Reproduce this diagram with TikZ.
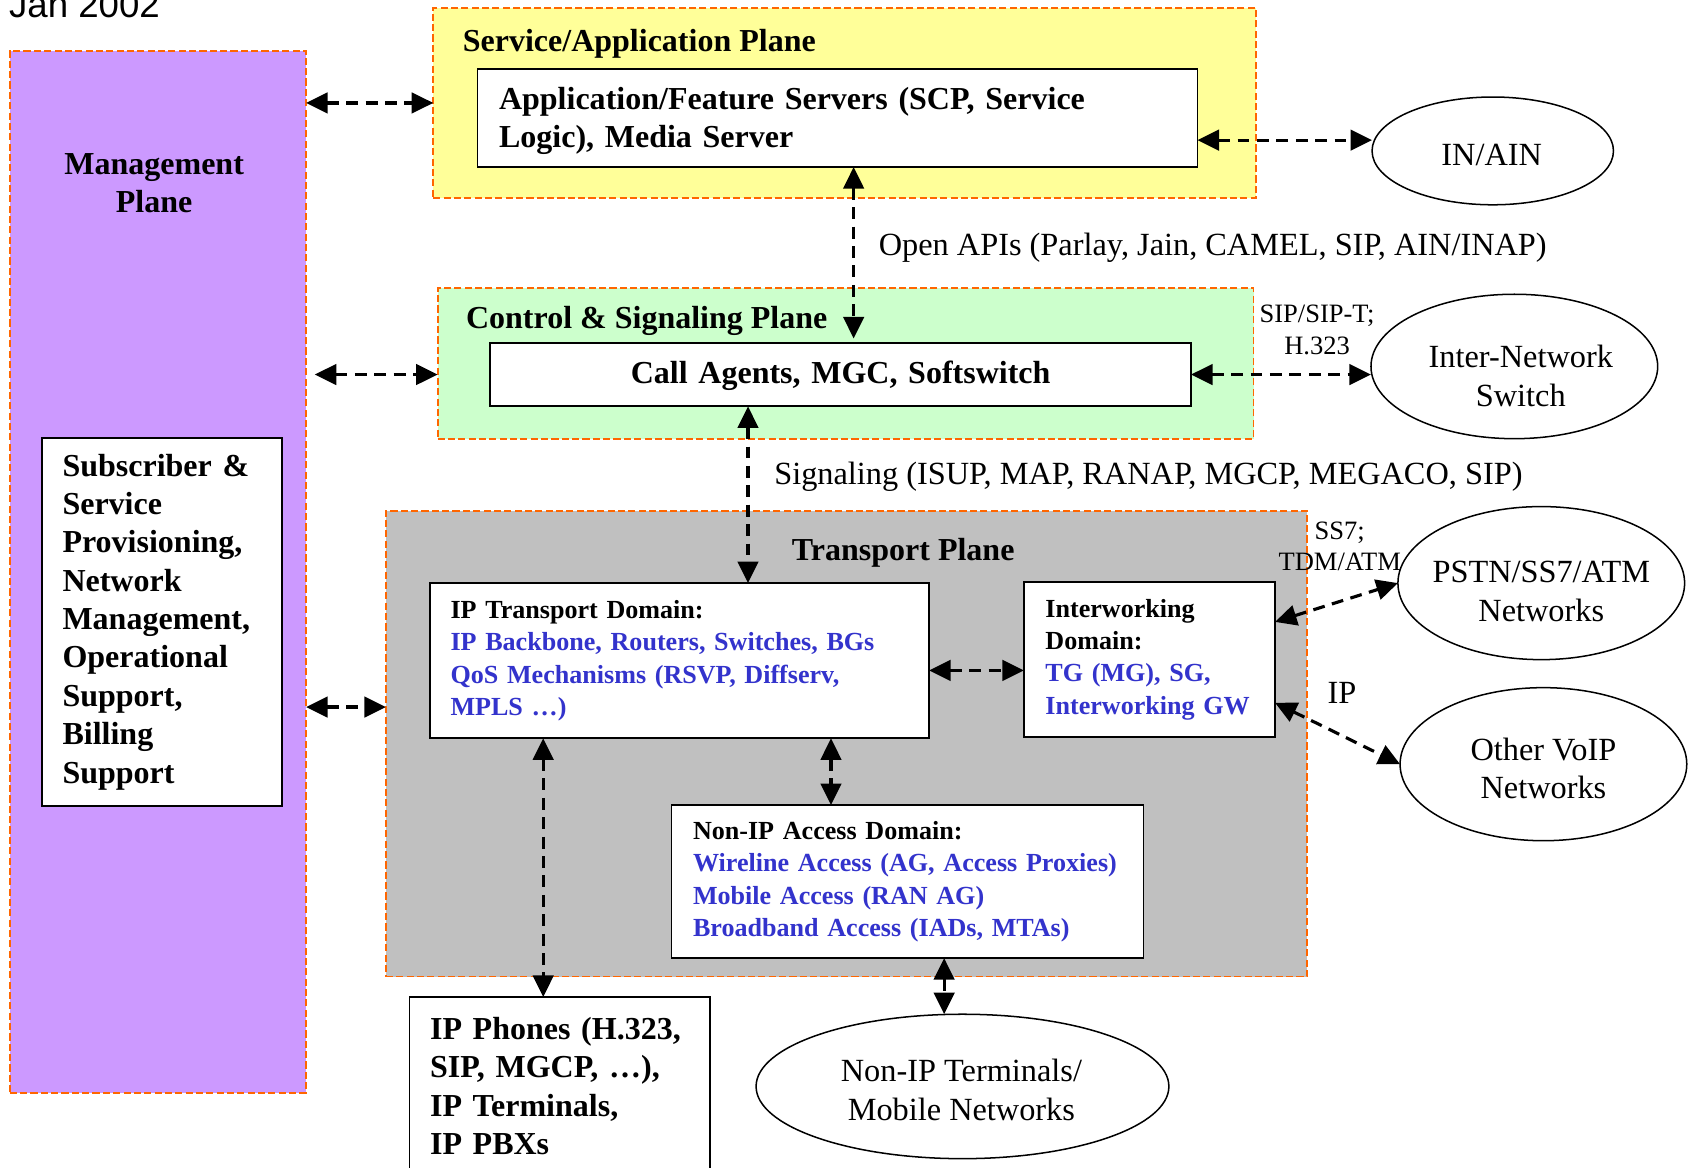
\documentclass[tikz,border=0pt]{standalone}
\usepackage{fontspec}
\setmainfont{Liberation Serif}
\newfontfamily\sansf{Liberation Sans}
\usetikzlibrary{arrows.meta,shapes.geometric}
\definecolor{mgmtc}{HTML}{CC99FF}
\definecolor{svcc}{HTML}{FFFF99}
\definecolor{ctrlc}{HTML}{CCFFCC}
\definecolor{trc}{HTML}{C0C0C0}
\definecolor{orng}{HTML}{FF6600}
\definecolor{blu}{HTML}{3333CC}
\newcommand{\fBig}{\fontsize{14.85}{17.8}\selectfont\bfseries}
\newcommand{\fDom}{\fontsize{12.1}{15}\selectfont\bfseries}
\newcommand{\fReg}{\fontsize{15}{18}\selectfont}
\newcommand{\fSml}{\fontsize{12.3}{14.5}\selectfont}
\newcommand{\bl}[1]{\textcolor{blu}{\mbox{#1}}}
\begin{document}
\begin{tikzpicture}[x=0.5pt,y=-0.5pt,
  plane/.style={draw=orng, line width=0.9pt, dash pattern=on 3.3pt off 1.5pt, anchor=north west, inner sep=0pt, outer sep=0pt},
  box/.style={draw=black, line width=0.85pt, fill=white, anchor=north west, inner ysep=0pt, align=left, outer sep=0pt},
  ell/.style={draw=black, ellipse, line width=0.7pt, inner sep=0pt, outer sep=0pt},
  etxt/.style={font=\fReg, inner sep=0pt, align=center},
  conn/.style={line width=1.45pt, dash pattern=on 5.5pt off 3.5pt, {Triangle[length=10pt,width=9.5pt]}-{Triangle[length=10pt,width=9.5pt]}},
  ttl/.style={font=\fBig, inner sep=0pt, align=center},
  lbl/.style={font=\fReg, inner sep=0pt, align=center},
  slbl/.style={font=\fSml, inner sep=0pt, align=center}]
\useasboundingbox (0,0) rectangle (1568,1083);
\clip (0,0) rectangle (1568,1083);

% date
\node[anchor=base west, inner sep=0pt, font=\sansf\fontsize{17}{20}\selectfont] (date) at (8,16) {Jan 2002};

% planes
\node[plane, fill=mgmtc, minimum width=137.5pt, minimum height=483.5pt] (mgmt) at (9,47) {};
\node[plane, fill=svcc, minimum width=381.5pt, minimum height=88.5pt] (svc) at (402,7) {};
\node[plane, fill=ctrlc, minimum width=378.5pt, minimum height=70pt] (ctrl) at (406,267) {};
\node[plane, fill=trc, minimum width=427.5pt, minimum height=216pt] (trans) at (358,474) {};

% plane titles
\node[ttl] (mgmtt) at (143,170) {Management\\Plane};
\node[ttl, anchor=west] (svct) at (429,41) {Service/Application Plane};
\node[ttl, anchor=west] (ctrlt) at (432,298) {Control \& Signaling Plane};
\node[ttl] (transt) at (838,513) {Transport Plane};

% boxes
\node[box, font=\fBig, inner xsep=10pt, text width=314pt, minimum height=45.5pt] (app) at (443,64)
  {\rule{0pt}{13pt}Application/Feature Servers (SCP, Service\\Logic), Media Server};
\node[box, font=\fBig, inner xsep=10pt, text width=305pt, minimum height=29.5pt, align=center] (ca) at (455,318)
  {\rule{0pt}{12pt}Call Agents, MGC, Softswitch};
\node[box, font=\fBig, inner xsep=9.5pt, text width=92.5pt, minimum height=171pt] (sub) at (39,406)
  {Subscriber \&\\Service\\Provisioning,\\Network\\Management,\\Operational\\Support,\\Billing\\Support};
\node[box, font=\fDom, inner xsep=9.5pt, text width=212.5pt, minimum height=72pt] (ipt) at (399,541)
  {IP Transport Domain:\\\bl{IP Backbone, Routers, Switches, BGs}\\\bl{QoS Mechanisms (RSVP, Diffserv,}\\\bl{MPLS \dots)}};
\node[box, font=\fDom, inner xsep=10pt, text width=96.5pt, minimum height=72pt] (iw) at (950,540)
  {Interworking\\Domain:\\\bl{TG (MG), SG,}\\\bl{Interworking GW}};
\node[box, font=\fDom, inner xsep=10pt, text width=199pt, minimum height=71pt] (nonip) at (623,747)
  {Non-IP Access Domain:\\\bl{Wireline Access (AG, Access Proxies)}\\\bl{Mobile Access (RAN AG)}\\\bl{Broadband Access (IADs, MTAs)}};
\node[box, font=\fBig, inner xsep=9.5pt, text width=120.5pt, minimum height=82.5pt] (phones) at (380,925)
  {IP Phones (H.323,\\SIP, MGCP, \dots),\\IP Terminals,\\IP PBXs};

% ellipses
\node[ell, minimum width=112pt, minimum height=50pt] (inain) at (1385,140) {};
\node[ell, minimum width=133pt, minimum height=67pt] (ins) at (1405,340) {};
\node[ell, minimum width=133pt, minimum height=71pt] (pstn) at (1430,541) {};
\node[ell, minimum width=133pt, minimum height=71pt] (voip) at (1432,709) {};
\node[ell, minimum width=191.5pt, minimum height=67pt] (term) at (893,1008) {};
\node[etxt] (inaint) at (1384,144) {IN/AIN};
\node[etxt] (inst) at (1411,349) {Inter-Network\\Switch};
\node[etxt] (pstnt) at (1430,549) {PSTN/SS7/ATM\\Networks};
\node[etxt] (voipt) at (1432,713) {Other VoIP\\Networks};
\node[etxt] (termt) at (892,1011) {Non-IP Terminals/\\Mobile Networks};

% labels
\node[lbl, anchor=west] (apis) at (815,230) {Open APIs (Parlay, Jain, CAMEL, SIP, AIN/INAP)};
\node[lbl, anchor=west] (sig) at (718,442) {Signaling (ISUP, MAP, RANAP, MGCP, MEGACO, SIP)};
\node[slbl] (siplbl) at (1222,306) {SIP/SIP-T;\\H.323};
\node[slbl] (ss7lbl) at (1243,507) {SS7;\\TDM/ATM};
\node[lbl] (iplbl) at (1245,643) {IP};

% helper coordinates
\coordinate (h130) at (0,130);
\coordinate (h656) at (0,656);
\coordinate (h622) at (0,622);
\coordinate (h577) at (0,577);
\coordinate (h652) at (0,652);
\coordinate (v792) at (792,0);
\coordinate (v694) at (694,0);
\coordinate (v771) at (771,0);
\coordinate (v504) at (504,0);
\coordinate (v876) at (876,0);

% connectors
\draw[conn] (mgmt.east |- svc.west) -- (svc.west);
\draw[conn] ([xshift=4pt]mgmt.east |- ca.west) -- (ctrl.west |- ca.west);
\draw[conn] (mgmt.east |- h656) -- (trans.west |- h656);
\draw[conn] (app.east |- h130) -- (inain.west |- h130);
\draw[conn] (app.south -| v792) -- ([yshift=2pt]ca.north -| v792);
\draw[conn] (ca.east) -- (ins.west |- ca.east);
\draw[conn] (ca.south -| v694) -- (ipt.north -| v694);
\draw[conn] (ipt.east |- h622) -- (iw.west |- h622);
\draw[conn] (ipt.south -| v771) -- (nonip.north -| v771);
\draw[conn] (ipt.south -| v504) -- (phones.north -| v504);
\draw[conn] (nonip.south -| v876) -- (term.north -| v876);
\draw[conn] (iw.east |- h577) -- (pstn.west);
\draw[conn] (iw.east |- h652) -- (voip.west);
\end{tikzpicture}
\end{document}
